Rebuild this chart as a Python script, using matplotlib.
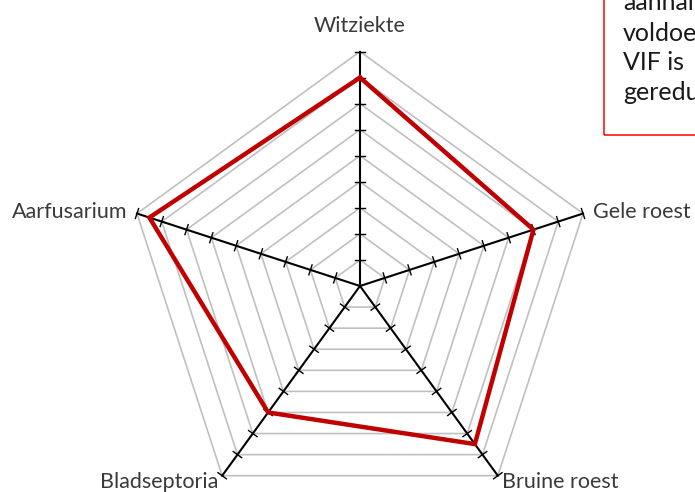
import numpy as np
import matplotlib.pyplot as plt
from matplotlib.patches import Rectangle

# radar values (scale 0..9)
categories = ['Witziekte', 'Gele roest', 'Bruine roest', 'Bladseptoria', 'Aarfusarium']
values = [8, 7, 7.5, 6, 8.5]
levels = list(range(1, 10))
box_lines = ['aanname', 'voldoende', 'VIF is', 'gereduceerd']

plt.rcParams['font.family'] = ['Lato', 'DejaVu Sans']

W, H = 695, 492
fig = plt.figure(figsize=(W / 100, H / 100), dpi=100)
ax = fig.add_axes([0, 0, 1, 1])
ax.set_axis_off()

# pixel geometry: centre of the web and pixels per unit
cx, cy = 360, 286
ppu = 234.5 / 9
ax.set_xlim(-cx / ppu, (W - cx) / ppu)
ax.set_ylim(-(H - cy) / ppu, cy / ppu)

n = len(categories)
ang = np.deg2rad(90 - 72 * np.arange(n))
ux, uy = np.cos(ang), np.sin(ang)

# grid polygons
for lv in levels:
    ax.plot(np.append(ux, ux[0]) * lv, np.append(uy, uy[0]) * lv,
            color='#c0c0c0', lw=1.2, zorder=1)

# spokes with tick marks
rmax = max(levels)
for i in range(n):
    ax.plot([0, ux[i] * rmax], [0, uy[i] * rmax], color='black', lw=1.5, zorder=2)
    px, py = -uy[i], ux[i]
    for lv in levels:
        x0, y0 = ux[i] * lv, uy[i] * lv
        ax.plot([x0 - px * 0.2, x0 + px * 0.2], [y0 - py * 0.2, y0 + py * 0.2],
                color='black', lw=1.0, zorder=2)

# data polygon
v = np.array(values)
ax.plot(np.append(ux * v, ux[0] * v[0]), np.append(uy * v, uy[0] * v[0]),
        color='#c00000', lw=3.2, zorder=3, solid_joinstyle='miter')

# category labels
offs = [(0, 11, 'center', 'bottom'), (7, 1, 'left', 'center'),
        (3, 3, 'left', 'top'), (-3, 3, 'right', 'top'), (-7, 1, 'right', 'center')]
for i, lab in enumerate(categories):
    dx, dy, ha, va = offs[i]
    ax.annotate(lab, (ux[i] * rmax, uy[i] * rmax), xytext=(dx, dy),
                textcoords='offset points', ha=ha, va=va, fontsize=15.5,
                color='#3a3a3a')

# partially visible note box, top right
fig.patches.append(Rectangle((604 / W, 1 - 135 / H), 0.5, 0.5, transform=fig.transFigure,
                             fill=False, edgecolor='#ff0000', lw=1.1))
for k, t in enumerate(box_lines):
    fig.text(623 / W, 1 - (3 + 30 * k) / H, t, fontsize=18, color='#1a1a1a',
             ha='left', va='center')

fig.savefig('out.png', dpi=100)
